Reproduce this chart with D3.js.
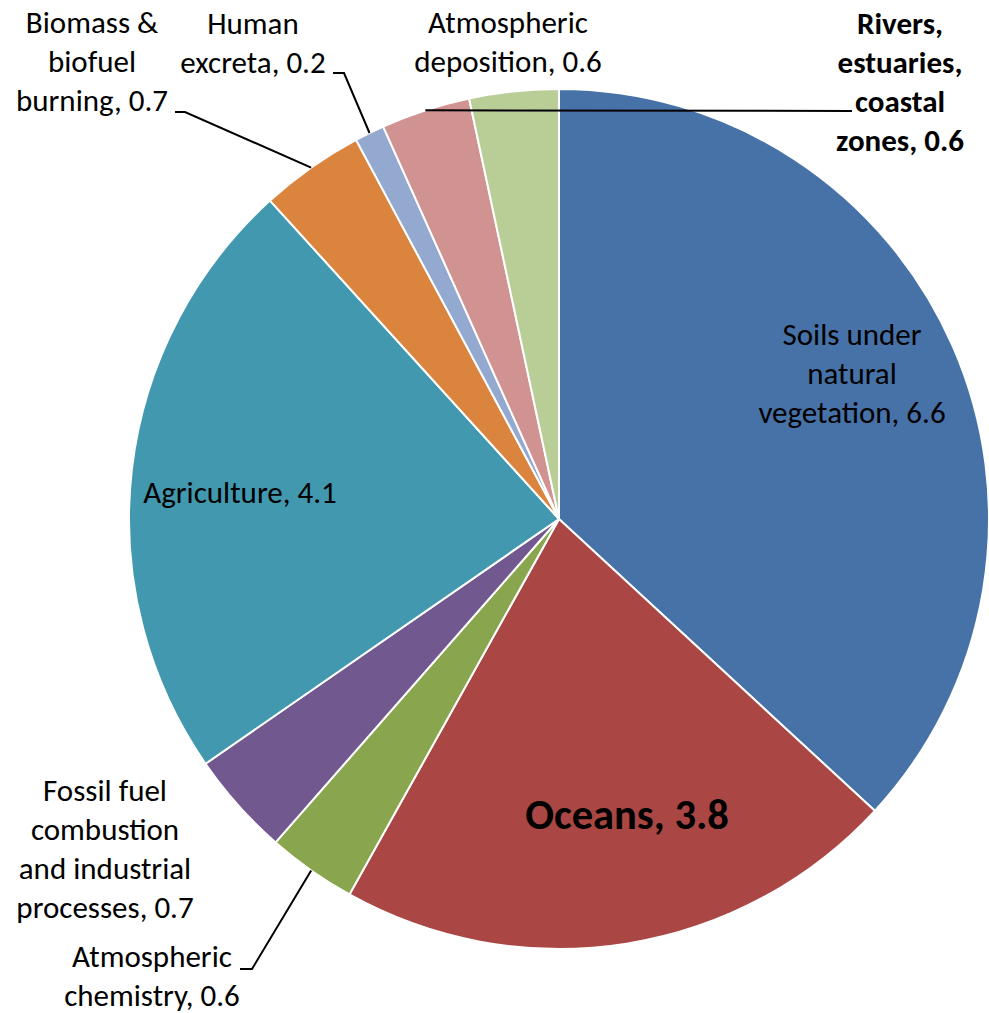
<!DOCTYPE html>
<html>
<head>
<meta charset="utf-8">
<script src="https://cdn.jsdelivr.net/npm/d3@7"></script>
<style>
  body { margin: 0; background: #fff; }
  text { font-family: Carlito, Calibri, Lato, sans-serif; fill: #000; }
</style>
</head>
<body>
<script>
// data, clockwise from 12 o'clock
const sources = ["Soils under natural vegetation", "Oceans", "Atmospheric chemistry",
  "Fossil fuel combustion and industrial processes", "Agriculture", "Biomass & biofuel burning",
  "Human excreta", "Rivers, estuaries, coastal zones", "Atmospheric deposition"];
const emissions = [6.6, 3.8, 0.6, 0.7, 4.1, 0.7, 0.2, 0.6, 0.6];
const colours = ["#4672A8", "#AA4744", "#89A54E", "#71588F", "#4198AF", "#DB843D", "#93A9CF", "#D19392", "#B9CD96"];

// how each label is written (line breaks) and where it sits
const labelLines = [
  ["Soils under", "natural", "vegetation, 6.6"],
  ["Oceans, 3.8"],
  ["Atmospheric", "chemistry, 0.6"],
  ["Fossil fuel", "combustion", "and industrial", "processes, 0.7"],
  ["Agriculture, 4.1"],
  ["Biomass &", "biofuel", "burning, 0.7"],
  ["Human", "excreta, 0.2"],
  ["Rivers,", "estuaries,", "coastal", "zones, 0.6"],
  ["Atmospheric", "deposition, 0.6"]
];
const labelPos = [[852, 345], [627, 829], [152, 967], [105, 801], [240, 503], [92, 33], [253, 34], [900, 34], [508, 33]];
const bold = [false, true, false, false, false, false, false, true, false];
// leader lines: [x, y] where the line leaves the text (null = none)
const leaderStart = [null, null, [240, 969], null, null, [175, 112], [333, 73], [852, 111], null];
const leaderStub = [0, 0, 12, 0, 0, 10, 11, 0, 0];

const width = 989, height = 1013;
const cx = 559, cy = 519, r = 430;

const svg = d3.select("body").append("svg")
  .attr("width", width)
  .attr("height", height);

const pie = d3.pie().sort(null).value(d => d);
const arcs = pie(emissions);
const arc = d3.arc().innerRadius(0).outerRadius(r);

const g = svg.append("g").attr("transform", `translate(${cx},${cy})`);

g.selectAll("path")
  .data(arcs)
  .join("path")
  .attr("d", arc)
  .attr("fill", (d, i) => colours[i])
  .attr("stroke", "#fff")
  .attr("stroke-width", 2);

// leader lines to the middle of the slice edge
arcs.forEach((d, i) => {
  if (!leaderStart[i]) return;
  const a = (d.startAngle + d.endAngle) / 2;
  const ex = cx + r * Math.sin(a), ey = cy - r * Math.cos(a);
  const [sx, sy] = leaderStart[i];
  const dir = ex > sx ? 1 : -1;
  const pts = [[sx, sy]];
  if (leaderStub[i]) pts.push([sx + dir * leaderStub[i], sy]);
  pts.push([ex, ey]);
  svg.append("path")
    .attr("d", d3.line()(pts))
    .attr("fill", "none")
    .attr("stroke", "#000")
    .attr("stroke-width", 2);
});

// labels
labelLines.forEach((lines, i) => {
  const t = svg.append("text")
    .attr("text-anchor", "middle")
    .attr("font-size", i === 1 ? 42.5 : 31)
    .attr("font-weight", bold[i] ? "bold" : "normal");
  lines.forEach((s, j) => {
    t.append("tspan")
      .attr("x", labelPos[i][0])
      .attr("y", labelPos[i][1] + j * 39)
      .text(s);
  });
});
</script>
</body>
</html>
